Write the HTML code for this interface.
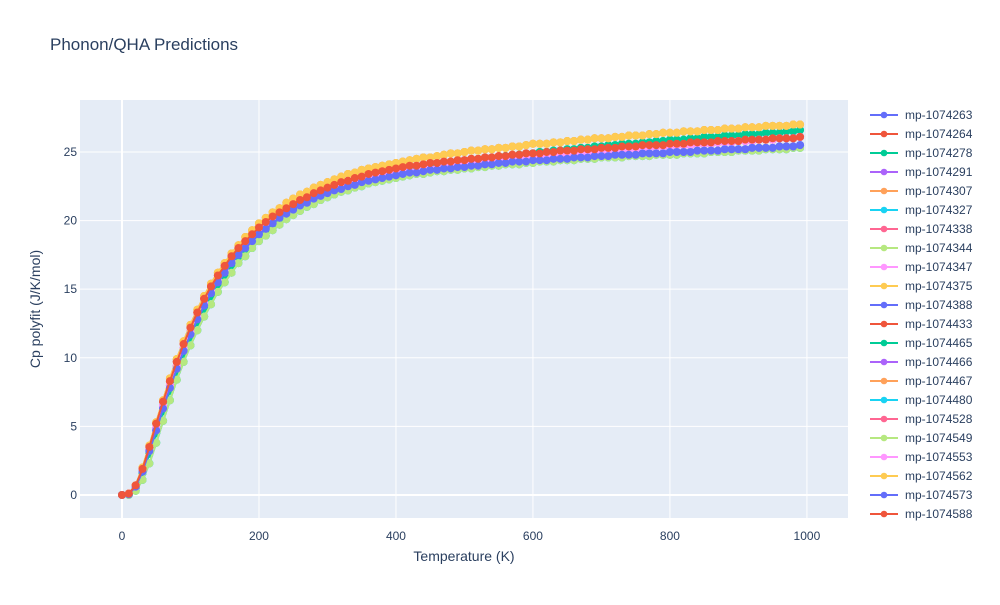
<!DOCTYPE html>
<html><head><meta charset="utf-8"><style>
body{margin:0;background:#fff;font-family:"Liberation Sans",Arial,sans-serif}
svg text{font-family:"Liberation Sans",Arial,sans-serif;fill:#2a3f5f}
</style></head><body>
<svg id="chart" width="1000" height="600" xmlns="http://www.w3.org/2000/svg">
<rect width="1000" height="600" fill="#fff"/>
<text x="50" y="50" font-size="17">Phonon/QHA Predictions</text>
<rect x="80" y="100" width="768" height="418" fill="#e5ecf6"/>
<g id="grid"></g><g id="series"></g><g id="ticks"></g><g id="legend"></g>
<text x="464" y="561" font-size="14" text-anchor="middle">Temperature (K)</text>
<text transform="translate(40,309) rotate(-90)" font-size="14" text-anchor="middle">Cp polyfit (J/K/mol)</text>
</svg>
<script>
const seriesNames=["mp-1074263","mp-1074264","mp-1074278","mp-1074291","mp-1074307","mp-1074327","mp-1074338","mp-1074344","mp-1074347","mp-1074375","mp-1074388","mp-1074433","mp-1074465","mp-1074466","mp-1074467","mp-1074480","mp-1074528","mp-1074549","mp-1074553","mp-1074562","mp-1074573","mp-1074588"];
const colors=["#636efa","#EF553B","#00cc96","#ab63fa","#FFA15A","#19d3f3","#FF6692","#B6E880","#FF97FF","#FECB52"];
const xTicks=[0,200,400,600,800,1000];
const yTicks=[0,5,10,15,20,25];
const cpA=[0,0.1,0.7,2.0,3.6,5.3,6.9,8.5,9.9,11.2,12.4,13.5,14.5,15.4,16.2,16.9,17.6,18.2,18.8,19.3,19.8,20.2,20.6,20.9,21.3,21.6,21.9,22.1,22.4,22.6,22.8,23.0,23.2,23.4,23.5,23.7,23.8,23.9,24.0,24.1,24.2,24.3,24.4,24.5,24.6,24.6,24.7,24.8,24.9,24.9,25.0,25.1,25.1,25.2,25.2,25.3,25.3,25.4,25.4,25.5,25.6,25.6,25.6,25.7,25.7,25.8,25.8,25.9,25.9,26.0,26.0,26.0,26.1,26.1,26.2,26.2,26.2,26.3,26.3,26.4,26.4,26.4,26.5,26.5,26.5,26.6,26.6,26.6,26.7,26.7,26.7,26.8,26.8,26.8,26.9,26.9,26.9,26.9,27.0,27.0];
const cpB=[0,0.1,0.7,1.9,3.5,5.2,6.8,8.3,9.7,11.0,12.2,13.3,14.3,15.2,16.0,16.7,17.4,18.0,18.5,19.0,19.5,19.9,20.3,20.6,20.9,21.2,21.5,21.7,22.0,22.2,22.4,22.6,22.8,22.9,23.1,23.2,23.4,23.5,23.6,23.7,23.8,23.9,24.0,24.0,24.1,24.2,24.2,24.3,24.3,24.4,24.4,24.5,24.5,24.6,24.6,24.7,24.7,24.8,24.8,24.9,24.9,24.9,25.0,25.0,25.1,25.1,25.1,25.2,25.2,25.2,25.3,25.3,25.3,25.4,25.4,25.4,25.5,25.5,25.5,25.5,25.6,25.6,25.6,25.7,25.7,25.7,25.7,25.8,25.8,25.8,25.8,25.9,25.9,25.9,25.9,26.0,26.0,26.0,26.0,26.1];
const cpC=[0,0.05,0.5,1.6,3.0,4.5,6.1,7.6,9.0,10.3,11.5,12.6,13.6,14.5,15.3,16.0,16.7,17.3,17.9,18.4,18.9,19.3,19.7,20.1,20.4,20.7,21.0,21.3,21.5,21.8,22.0,22.2,22.4,22.5,22.7,22.8,23.0,23.1,23.2,23.3,23.4,23.5,23.6,23.7,23.8,23.9,24.0,24.0,24.1,24.2,24.3,24.3,24.4,24.5,24.5,24.6,24.7,24.7,24.8,24.8,24.9,25.0,25.0,25.1,25.1,25.2,25.2,25.3,25.3,25.4,25.4,25.5,25.5,25.6,25.6,25.6,25.7,25.7,25.8,25.8,25.9,25.9,25.9,26.0,26.0,26.1,26.1,26.1,26.2,26.2,26.2,26.3,26.3,26.3,26.4,26.4,26.4,26.5,26.5,26.6];
const cpD=[0,0.1,0.6,1.8,3.3,4.9,6.5,8.0,9.4,10.7,11.9,13.0,14.0,14.9,15.7,16.4,17.1,17.7,18.2,18.7,19.2,19.6,20.0,20.3,20.6,20.9,21.2,21.4,21.7,21.9,22.1,22.3,22.4,22.6,22.7,22.9,23.0,23.1,23.2,23.3,23.4,23.5,23.6,23.6,23.7,23.8,23.8,23.9,24.0,24.0,24.1,24.1,24.2,24.2,24.3,24.3,24.4,24.4,24.5,24.5,24.6,24.6,24.7,24.7,24.8,24.8,24.8,24.9,24.9,25.0,25.0,25.1,25.1,25.2,25.2,25.2,25.3,25.3,25.4,25.4,25.4,25.5,25.5,25.5,25.6,25.6,25.6,25.7,25.7,25.7,25.8,25.8,25.8,25.9,25.9,25.9,26.0,26.0,26.0,26.1];
const cpE=[0,0.05,0.6,1.7,3.2,4.7,6.3,7.8,9.2,10.5,11.7,12.8,13.8,14.7,15.5,16.2,16.9,17.5,18.0,18.5,19.0,19.4,19.8,20.2,20.5,20.8,21.1,21.3,21.6,21.8,22.0,22.2,22.3,22.5,22.6,22.8,22.9,23.0,23.1,23.2,23.3,23.4,23.5,23.5,23.6,23.7,23.7,23.8,23.8,23.9,23.9,24.0,24.0,24.1,24.1,24.2,24.2,24.3,24.3,24.3,24.4,24.4,24.4,24.5,24.5,24.5,24.6,24.6,24.6,24.7,24.7,24.7,24.8,24.8,24.8,24.8,24.9,24.9,24.9,24.9,25.0,25.0,25.0,25.0,25.1,25.1,25.1,25.1,25.2,25.2,25.2,25.2,25.3,25.3,25.3,25.3,25.4,25.4,25.4,25.5];
const cpF=[0,0.0,0.3,1.1,2.3,3.8,5.4,6.9,8.4,9.7,10.9,12.0,13.0,13.9,14.8,15.5,16.2,16.9,17.4,18.0,18.5,18.9,19.3,19.7,20.1,20.4,20.7,21.0,21.2,21.5,21.7,21.9,22.1,22.2,22.4,22.5,22.7,22.8,22.9,23.0,23.1,23.2,23.3,23.4,23.4,23.5,23.6,23.6,23.7,23.7,23.8,23.8,23.9,23.9,24.0,24.0,24.1,24.1,24.1,24.2,24.2,24.3,24.3,24.3,24.4,24.4,24.4,24.5,24.5,24.5,24.6,24.6,24.6,24.6,24.7,24.7,24.7,24.7,24.8,24.8,24.8,24.8,24.9,24.9,24.9,24.9,25.0,25.0,25.0,25.0,25.1,25.1,25.1,25.1,25.2,25.2,25.2,25.2,25.3,25.3];
const seriesValues=[cpE,cpB,cpC,cpD,cpA,cpF,cpD,cpF,cpD,cpA,cpE,cpB,cpC,cpD,cpA,cpF,cpD,cpF,cpD,cpA,cpE,cpB];
const temperatureStep=10;

const NS="http://www.w3.org/2000/svg";
const X0=80,X1=848,Y0=100,Y1=518,xMin=-61.3,xMax=1060,yMin=-1.68,yMax=28.79;
const sx=v=>X0+(v-xMin)/(xMax-xMin)*(X1-X0);
const sy=v=>Y1-(v-yMin)/(yMax-yMin)*(Y1-Y0);
function mk(tag,attrs,parent){const e=document.createElementNS(NS,tag);for(const k in attrs)e.setAttribute(k,attrs[k]);parent.appendChild(e);return e;}
const grid=document.getElementById('grid'),ticks=document.getElementById('ticks'),ser=document.getElementById('series'),leg=document.getElementById('legend');
xTicks.forEach(t=>{const x=sx(t);
 const l=mk('line',{x1:x,x2:x,y1:Y0,y2:Y1,stroke:'#fff','stroke-width':t===0?2:1},grid);
 
 
 const tx=mk('text',{x:x,y:540,'font-size':12,'text-anchor':'middle'},ticks);tx.textContent=t;
 
 });
yTicks.forEach(t=>{const y=sy(t);
 const l=mk('line',{x1:X0,x2:X1,y1:y,y2:y,stroke:'#fff','stroke-width':t===0?2:1},grid);
 
 
 const tx=mk('text',{x:77,y:y+4,'font-size':12,'text-anchor':'end'},ticks);tx.textContent=t;
 
 });
seriesValues.forEach((vals,s)=>{const c=colors[s%colors.length];
 const g=mk('g',{},ser);
 
 
 const pts=vals.map((v,i)=>sx(i*temperatureStep)+','+sy(v)).join(' ');
 mk('polyline',{points:pts,fill:'none',stroke:c,'stroke-width':2},g);
 vals.forEach((v,i)=>{const p=mk('circle',{cx:sx(i*temperatureStep),cy:sy(v),r:4,fill:c},g);
  
  });
 const y=115+s*19;
 const le=mk('g',{},leg);
 
 
 mk('line',{x1:870,x2:898,y1:y,y2:y,stroke:c,'stroke-width':2},le);
 mk('circle',{cx:884,cy:y,r:3.3,fill:c},le);
 const t=mk('text',{x:905,y:y+4,'font-size':12},le);t.textContent=seriesNames[s];});
</script>
</body></html>
